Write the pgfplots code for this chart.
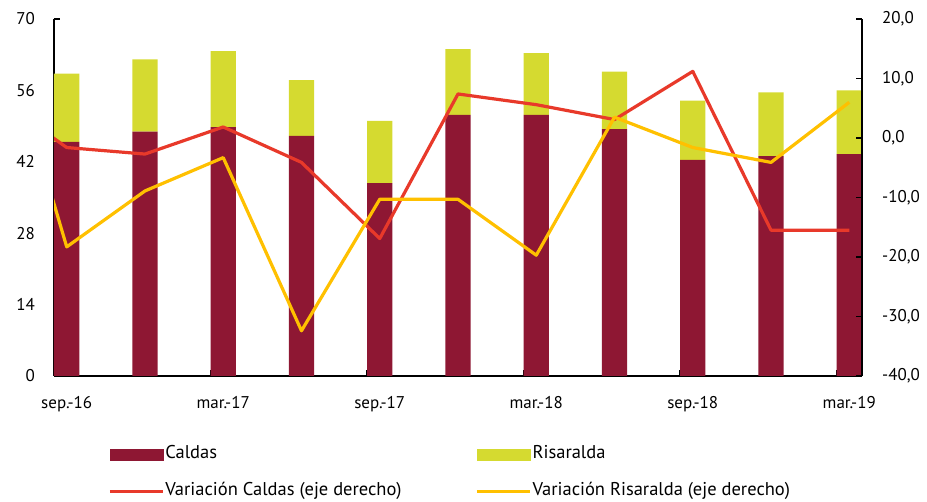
\documentclass[border=0pt]{standalone}
\usepackage{pgfplots}
\pgfplotsset{compat=1.18}
\usepackage{fontspec}
\setmainfont{PT Sans}
\definecolor{caldas}{HTML}{8E1733}
\definecolor{risaralda}{HTML}{D5DA30}
\definecolor{redline}{HTML}{E8392A}
\definecolor{yellowline}{HTML}{FFC000}
\pgfplotsset{lineleg/.style={legend image code/.code={\draw[##1] (0pt,0pt) -- (53pt,0pt);}}}
\begin{document}
\begin{tikzpicture}[font=\fontsize{17}{20}\selectfont]
\path[use as bounding box] (0,0) rectangle (927pt,502pt);
\begin{axis}[
  at={(54pt,126pt)}, anchor=south west, scale only axis,
  width=808pt, height=357pt,
  xmin=-0.1625, xmax=10.1625, ymin=0, ymax=70,
  ytick={0,14,...,70},
  xtick={-0.1625,1.8375,3.8375,5.8375,7.8375,9.8375},
  xticklabels={sep.-16,mar.-17,sep.-17,mar.-18,sep.-18,mar.-19},
  xticklabel style={xshift=12.7pt, inner sep=0pt, yshift=-20pt, anchor=north},
  yticklabel style={inner sep=0pt, xshift=-19pt, anchor=east},
  axis x line*=bottom, axis y line*=left,
  axis line style={-, line width=1.6pt, black},
  tick align=inside, major tick length=6pt,
  tick style={line width=1.6pt, black},
  ybar stacked, bar width=0.325,
  /pgf/number format/assume math mode=true,
]
\addplot[fill=caldas, draw=none] coordinates {
 (0,45.9) (1,47.9) (2,48.8) (3,47.1) (4,37.8) (5,51.2) (6,51.2) (7,48.4) (8,42.4) (9,43.1) (10,43.5)};
\addplot[fill=risaralda, draw=none] coordinates {
 (0,13.4) (1,14.2) (2,14.9) (3,10.9) (4,12.2) (5,12.9) (6,12.1) (7,11.3) (8,11.6) (9,12.5) (10,12.5)};
\end{axis}
\begin{axis}[
  at={(54pt,126pt)}, anchor=south west, scale only axis,
  width=808pt, height=357pt,
  xmin=-0.1625, xmax=10.1625, ymin=-40, ymax=20,
  ytick={-40,-30,...,20},
  axis y line*=right, axis x line=none,
  axis line style={-, line width=1.6pt, black},
  tick align=inside, major tick length=6pt,
  tick style={line width=1.6pt, black},
  yticklabel style={inner sep=0pt, xshift=20pt, anchor=west},
  /pgf/number format/.cd, fixed, fixed zerofill, precision=1, use comma, assume math mode=true,
  /pgfplots/.cd,
  legend columns=2, legend cell align=left,
  legend style={at={(0.0668,-0.1947)}, anchor=north west, draw=none, fill=none,
    inner sep=0pt, row sep=20pt, column sep=0pt,
    font=\fontsize{18.5}{21}\selectfont,
    /tikz/every odd column/.append style={column sep=1pt},
    nodes={inner sep=0pt, text height=13pt, text depth=4pt}},
]
\addlegendimage{legend image code/.code={\fill[caldas] (0pt,-5.5pt) rectangle (53pt,5.5pt);}}
\addlegendentry{\makebox[310pt][l]{Caldas}}
\addlegendimage{legend image code/.code={\fill[risaralda] (0pt,-5.5pt) rectangle (53pt,5.5pt);}}
\addlegendentry{Risaralda}
\addplot[redline, line width=3.2pt, line join=round, lineleg] coordinates {
 (-1,7.8) (0,-1.6) (1,-2.7) (2,1.85) (3,-4.1) (4,-16.9) (5,7.4) (6,5.6) (7,3.1) (8,11.2) (9,-15.5) (10,-15.5)};
\addlegendentry{\makebox[310pt][l]{Variación Caldas (eje derecho)}}
\addplot[yellowline, line width=3.2pt, line join=round, lineleg] coordinates {
 (-1,26.3) (0,-18.3) (1,-8.9) (2,-3.3) (3,-32.4) (4,-10.3) (5,-10.3) (6,-19.7) (7,3.5) (8,-1.6) (9,-4.1) (10,6.0)};
\addlegendentry{Variación Risaralda (eje derecho)}
\end{axis}
\end{tikzpicture}
\end{document}
